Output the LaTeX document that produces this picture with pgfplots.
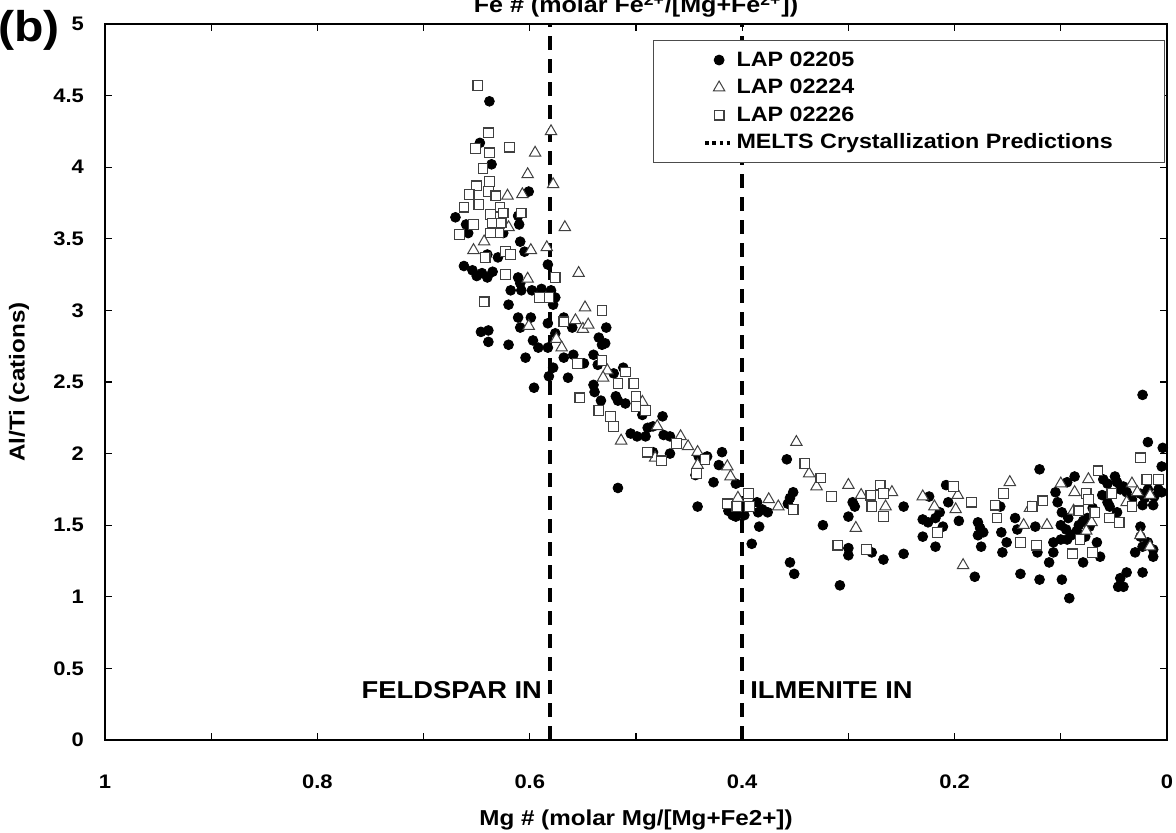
\documentclass[border=0pt]{standalone}
\usepackage{fontspec}
\setmainfont{Liberation Sans}[FakeStretch=1.12]
\usepackage{pgfplots}
\pgfplotsset{compat=1.18}
\usepackage{pgfplotstable}

\pgfplotstableread{
x y
0.638 4.46
0.647 4.17
0.636 4.02
0.601 3.83
0.670 3.65
0.611 3.66
0.660 3.60
0.610 3.60
0.625 3.54
0.658 3.54
0.609 3.48
0.605 3.41
0.630 3.37
0.640 3.39
0.662 3.31
0.583 3.32
0.654 3.28
0.645 3.26
0.640 3.23
0.650 3.24
0.635 3.27
0.611 3.23
0.609 3.19
0.618 3.14
0.608 3.14
0.598 3.14
0.589 3.15
0.580 3.14
0.576 3.09
0.620 3.04
0.578 3.04
0.611 2.95
0.599 2.95
0.609 2.88
0.583 2.91
0.568 2.95
0.646 2.85
0.639 2.86
0.639 2.78
0.620 2.76
0.597 2.79
0.592 2.74
0.583 2.74
0.604 2.67
0.578 2.60
0.582 2.54
0.564 2.53
0.596 2.46
0.559 2.69
0.549 2.63
0.568 2.67
0.560 2.88
0.576 2.84
0.540 2.69
0.528 2.88
0.535 2.81
0.532 2.76
0.529 2.77
0.536 2.62
0.540 2.48
0.539 2.43
0.533 2.37
0.519 2.40
0.517 2.37
0.510 2.35
0.521 2.56
0.512 2.60
0.494 2.27
0.475 2.26
0.505 2.14
0.499 2.12
0.491 2.12
0.489 2.18
0.484 2.19
0.474 2.13
0.468 2.12
0.468 2.00
0.484 2.01
0.441 1.98
0.433 1.98
0.419 2.01
0.422 1.92
0.427 1.80
0.444 1.85
0.517 1.76
0.406 1.79
0.442 1.63
0.413 1.60
0.409 1.57
0.406 1.56
0.401 1.59
0.398 1.57
0.386 1.66
0.385 1.59
0.381 1.61
0.376 1.59
0.384 1.49
0.391 1.37
0.358 1.96
0.352 1.73
0.355 1.69
0.357 1.65
0.324 1.50
0.355 1.24
0.351 1.16
0.308 1.08
0.300 1.56
0.300 1.34
0.300 1.29
0.296 1.66
0.294 1.63
0.278 1.31
0.267 1.26
0.248 1.63
0.248 1.30
0.230 1.54
0.225 1.52
0.218 1.55
0.224 1.70
0.214 1.59
0.211 1.49
0.230 1.42
0.218 1.35
0.208 1.78
0.206 1.66
0.196 1.53
0.178 1.52
0.176 1.48
0.173 1.45
0.178 1.43
0.175 1.35
0.181 1.14
0.156 1.45
0.151 1.38
0.155 1.31
0.157 1.63
0.023 2.41
0.018 2.08
0.004 2.04
0.005 1.91
0.120 1.89
0.087 1.84
0.094 1.80
0.105 1.73
0.103 1.66
0.143 1.55
0.141 1.47
0.124 1.49
0.122 1.31
0.107 1.38
0.107 1.31
0.111 1.24
0.138 1.16
0.120 1.12
0.099 1.12
0.092 0.99
0.100 1.50
0.095 1.47
0.090 1.43
0.085 1.46
0.083 1.50
0.079 1.53
0.075 1.55
0.073 1.49
0.099 1.59
0.093 1.55
0.100 1.40
0.094 1.40
0.077 1.42
0.066 1.38
0.063 1.28
0.079 1.24
0.060 1.82
0.056 1.79
0.049 1.84
0.047 1.80
0.061 1.71
0.056 1.66
0.054 1.63
0.070 1.62
0.044 1.75
0.041 1.77
0.038 1.73
0.047 1.59
0.033 1.68
0.025 1.72
0.021 1.69
0.018 1.75
0.023 1.64
0.012 1.70
0.008 1.75
0.005 1.73
0.013 1.64
0.025 1.49
0.025 1.42
0.023 1.35
0.018 1.38
0.013 1.33
0.013 1.28
0.030 1.31
0.038 1.17
0.044 1.13
0.046 1.07
0.041 1.07
0.023 1.17
}\lapA

\pgfplotstableread{
x y
0.580 4.25
0.595 4.10
0.602 3.95
0.578 3.88
0.621 3.80
0.607 3.81
0.567 3.58
0.620 3.58
0.643 3.48
0.653 3.42
0.599 3.42
0.584 3.44
0.554 3.26
0.602 3.22
0.548 3.02
0.557 2.93
0.550 2.87
0.601 2.89
0.575 2.80
0.570 2.74
0.545 2.90
0.527 2.58
0.531 2.53
0.494 2.36
0.480 2.19
0.458 2.12
0.451 2.05
0.514 2.09
0.482 1.97
0.442 2.01
0.442 1.92
0.414 1.91
0.411 1.84
0.349 2.08
0.337 1.86
0.330 1.77
0.404 1.69
0.375 1.68
0.366 1.63
0.300 1.78
0.288 1.71
0.259 1.73
0.265 1.63
0.293 1.48
0.230 1.70
0.219 1.63
0.197 1.71
0.199 1.61
0.192 1.22
0.148 1.80
0.100 1.79
0.074 1.82
0.087 1.73
0.033 1.79
0.028 1.73
0.038 1.66
0.129 1.62
0.088 1.60
0.135 1.50
0.113 1.50
0.071 1.52
0.076 1.46
0.025 1.43
0.016 1.35
0.016 1.71
}\lapB

\pgfplotstableread{
x y
0.649 4.57
0.639 4.24
0.651 4.13
0.638 4.10
0.619 4.14
0.644 3.99
0.638 3.90
0.650 3.87
0.657 3.81
0.639 3.83
0.632 3.80
0.648 3.74
0.662 3.72
0.628 3.72
0.625 3.68
0.608 3.68
0.637 3.67
0.635 3.61
0.653 3.60
0.627 3.61
0.629 3.54
0.666 3.53
0.637 3.54
0.623 3.41
0.618 3.39
0.642 3.37
0.643 3.06
0.623 3.25
0.576 3.23
0.591 3.09
0.582 3.09
0.568 2.92
0.555 2.63
0.553 2.39
0.532 3.00
0.532 2.65
0.510 2.57
0.517 2.49
0.502 2.49
0.500 2.40
0.500 2.33
0.491 2.30
0.535 2.30
0.524 2.26
0.521 2.19
0.462 2.07
0.489 2.01
0.476 1.95
0.435 1.96
0.443 1.86
0.394 1.72
0.414 1.65
0.405 1.63
0.393 1.63
0.352 1.61
0.341 1.93
0.326 1.83
0.316 1.70
0.310 1.36
0.270 1.78
0.279 1.71
0.267 1.72
0.278 1.63
0.267 1.56
0.283 1.33
0.216 1.45
0.201 1.77
0.184 1.66
0.154 1.72
0.162 1.64
0.160 1.55
0.025 1.97
0.065 1.88
0.019 1.82
0.008 1.82
0.117 1.67
0.127 1.63
0.076 1.72
0.074 1.68
0.083 1.60
0.068 1.59
0.052 1.72
0.033 1.63
0.054 1.55
0.045 1.52
0.138 1.38
0.123 1.36
0.082 1.40
0.089 1.30
0.070 1.31
}\lapC

\begin{document}
\begin{tikzpicture}
\begin{axis}[
  at={(0,0)}, anchor=south west,
  scale only axis, width=531pt, height=358pt,
  xmin=0, xmax=1, ymin=0, ymax=5, x dir=reverse,
  clip=false,
  axis line style={line width=1.4pt},
  xtick={0,0.2,0.4,0.6,0.8,1},
  xticklabels={0,0.2,0.4,0.6,0.8,1},
  minor xtick={0.1,0.3,0.5,0.7,0.9},
  ytick={0,0.5,1,1.5,2,2.5,3,3.5,4,4.5,5},
  yticklabels={0,0.5,1,1.5,2,2.5,3,3.5,4,4.5,5},
  tick align=inside,
  major tick length=3.5pt, minor tick length=3.5pt,
  tick style={black, line width=0.6pt},
  /pgf/number format/assume math mode=true,
  tick label style={font=\bfseries\fontsize{9.8}{11}\selectfont},
  xticklabel style={yshift=-14pt},
  yticklabel style={xshift=-7pt},
  xlabel={Mg \# (molar Mg/[Mg+Fe2+])},
  ylabel={Al/Ti (cations)},
  every axis x label/.style={at={(axis description cs:0.5,0)}, anchor=center, yshift=-40pt,
    font=\bfseries\fontsize{10.8}{12}\selectfont},
  every axis y label/.style={at={(axis description cs:0,0.5)}, rotate=90, anchor=center, yshift=43pt,
    font=\bfseries\fontsize{10.8}{12}\selectfont},
  legend image code/.code={\draw[mark repeat=2,mark phase=2,#1] plot coordinates {(0pt,0pt) (7pt,0pt) (14pt,0pt)};},
  legend cell align=left,
  legend style={at={(0.998,0.978)}, anchor=north east, draw=black!70, line width=0.5pt,
    fill=white, inner xsep=25pt, inner ysep=3pt, row sep=0pt,
    font=\bfseries\fontsize{10.4}{12}\selectfont,
    nodes={inner xsep=0.8pt, inner ysep=1.5pt, text height=8.4pt, text depth=2.4pt}},
]
\addplot[only marks, mark=*, mark size=2.45pt, black] table {\lapA};
\addlegendentry{LAP 02205}
\addplot[only marks, mark=triangle*, mark size=3.3pt, mark options={fill=white, draw=black!75, line width=0.5pt}] table {\lapB};
\addlegendentry{LAP 02224}
\addplot[only marks, mark=square*, mark size=2.4pt, mark options={fill=white, draw=black!75, line width=0.6pt}] table {\lapC};
\addlegendentry{LAP 02226}
\addplot[black, line width=1.8pt, dash pattern=on 7pt off 4.5pt,
  legend image code/.code={\draw[line width=1.8pt, dash pattern=on 1.8pt off 1.8pt] (0pt,0pt) -- (14pt,0pt);}]
  coordinates {(0.581,0) (0.581,5)};
\addlegendentry{MELTS Crystallization Predictions}
\addplot[black, line width=1.8pt, dash pattern=on 7pt off 4.5pt, forget plot]
  coordinates {(0.4,0) (0.4,5)};
\node[anchor=base east, font=\bfseries\fontsize{12.2}{14}\selectfont, xshift=-0.5pt] at (axis cs:0.581,0.29) {FELDSPAR IN};
\node[anchor=base west, font=\bfseries\fontsize{12.2}{14}\selectfont, xshift=0.5pt] at (axis cs:0.4,0.29) {ILMENITE IN};
\node[anchor=base, font=\bfseries\fontsize{11.2}{12}\selectfont, yshift=5.5pt] at (rel axis cs:0.5,1) {Fe \# (molar Fe\textsuperscript{2+}/[Mg+Fe\textsuperscript{2+}])};
\node[anchor=center, font=\bfseries\fontsize{21.5}{24}\selectfont, xshift=-38pt, yshift=-3pt] at (rel axis cs:0,1) {(b)};
\end{axis}
\pgfresetboundingbox
\useasboundingbox (-52.5pt,-46.5pt) rectangle (535.5pt,370pt);
\end{tikzpicture}
\end{document}
